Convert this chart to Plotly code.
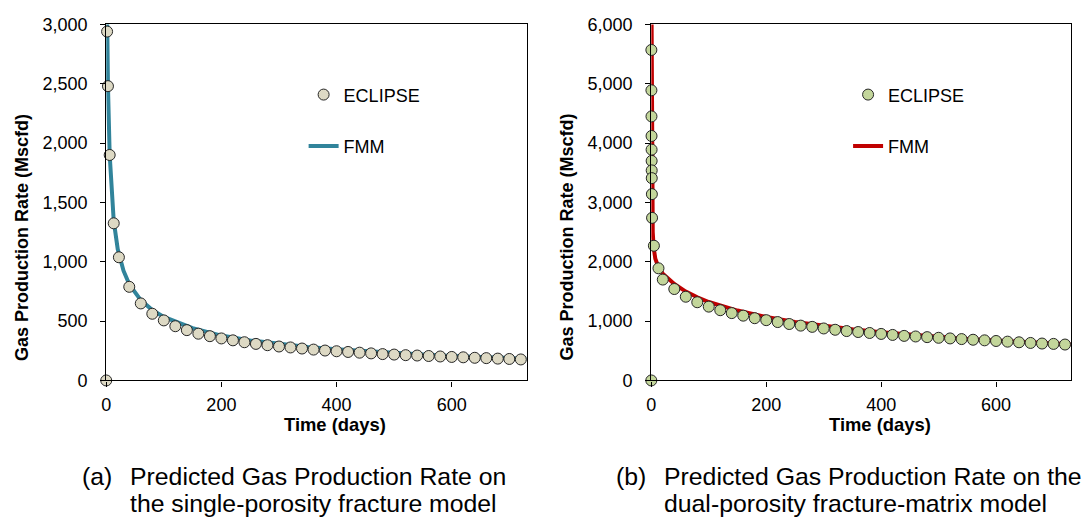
import plotly.graph_objects as go

W, H = 1083, 529

# ---------------- data: (a) single-porosity fracture model ----------------
ecl_a_t = [0, 1.5, 3, 6, 13, 22] + list(range(40, 721, 20))
ecl_a_q = [0, 2940, 2480, 1900, 1324, 1038,
           789, 649, 562, 506, 457, 424, 394, 373, 354, 338, 322, 308, 297,
           286, 278, 269, 260, 252, 246, 240, 234, 228, 222, 218, 213, 210,
           206, 202, 198, 195, 191, 188, 184, 181, 177]

fmm_a_t = [1, 1.5, 3, 6, 10, 13, 20, 30, 40, 60, 80, 100, 150, 200, 250, 300,
           350, 400, 450, 500, 550, 600, 650, 700, 730]
fmm_a_q = [3300, 2950, 2480, 1900, 1500, 1345, 1105, 925, 810, 677, 593, 535,
           440, 378, 337, 306, 282, 262, 245, 231, 218, 207, 197, 188, 183]

# ---------------- data: (b) dual-porosity fracture-matrix model -------------
ecl_b_t = [0, 0.1, 0.2, 0.3, 0.4, 0.5, 0.6, 0.7, 0.8, 1.0, 1.3, 4.5, 12.5] + list(range(20, 721, 20))
ecl_b_q = [0, 5570, 4890, 4450, 4120, 3890, 3700, 3540, 3410, 3140, 2740, 2270, 1890,
           1700, 1541, 1411, 1318, 1244, 1184, 1135, 1092, 1049, 1016, 984, 951,
           924, 903, 876, 854, 832, 816, 800, 784, 767, 751, 741, 730, 719, 708,
           697, 686, 676, 665, 654, 643, 632, 622, 616, 605]

fmm_b_t = [0.3, 0.6, 1, 1.5, 2.5, 4, 7, 12, 20, 40, 60, 80, 100, 150, 200, 250,
           300, 350, 400, 450, 500, 550, 600, 650, 700, 730]
fmm_b_q = [6500, 5000, 3800, 3000, 2500, 2250, 2050, 1920, 1800, 1625, 1498,
           1402, 1322, 1178, 1070, 987, 920, 862, 812, 770, 733, 700, 672, 646,
           622, 610]

x_range = [0, 730]
y_range_a = [0, 3000]
y_range_b = [0, 6000]

FONT = "Liberation Sans, Arial, sans-serif"
TEAL = "#31849B"
RED = "#C00000"
TAN = "#DDD9C4"
OLIVE = "#C3D69B"
EDGE = "#262626"

fig = go.Figure()

# (a)
fig.add_trace(go.Scatter(x=fmm_a_t, y=fmm_a_q, mode="lines", name="FMM",
                         line=dict(color=TEAL, width=4), xaxis="x", yaxis="y",
                         legend="legend", legendgroup="a2", legendrank=2))
fig.add_trace(go.Scatter(x=ecl_a_t, y=ecl_a_q, mode="markers", name="ECLIPSE",
                         marker=dict(size=11, color=TAN, line=dict(color=EDGE, width=1)),
                         cliponaxis=False, xaxis="x", yaxis="y",
                         legend="legend", legendgroup="a1", legendrank=1))
# (b)
fig.add_trace(go.Scatter(x=fmm_b_t, y=fmm_b_q, mode="lines", name="FMM",
                         line=dict(color=RED, width=4), xaxis="x2", yaxis="y2",
                         legend="legend2", legendgroup="b2", legendrank=2))
fig.add_trace(go.Scatter(x=ecl_b_t, y=ecl_b_q, mode="markers", name="ECLIPSE",
                         marker=dict(size=11, color=OLIVE, line=dict(color=EDGE, width=1)),
                         cliponaxis=False, xaxis="x2", yaxis="y2",
                         legend="legend2", legendgroup="b1", legendrank=1))

ydom = [(H - 385) / H, (H - 15) / H]
xdom_a = [101.7 / W, 524 / W]
xdom_b = [649.3 / W, 1070.7 / W]

axis_common = dict(showline=True, linecolor="black", linewidth=1.3, mirror=True,
                   ticks="outside", ticklen=5, tickcolor="black", tickwidth=1,
                   showgrid=False, zeroline=False,
                   tickfont=dict(family=FONT, size=18, color="black"))

fig.update_layout(
    width=W, height=H,
    margin=dict(l=0, r=0, t=0, b=0),
    paper_bgcolor="white", plot_bgcolor="white",
    font=dict(family=FONT, color="black"),
    xaxis=dict(domain=xdom_a, range=x_range, tickvals=[0, 200, 400, 600],
               anchor="y", ticklabelstandoff=3, **axis_common),
    yaxis=dict(domain=ydom, range=y_range_a, dtick=500, tickformat=",",
               anchor="x", ticklabelstandoff=9, **axis_common),
    xaxis2=dict(domain=xdom_b, range=x_range, tickvals=[0, 200, 400, 600],
                anchor="y2", ticklabelstandoff=3, **axis_common),
    yaxis2=dict(domain=ydom, range=y_range_b, dtick=1000, tickformat=",",
                anchor="x2", ticklabelstandoff=9, **axis_common),
    legend=dict(x=300 / W, y=1 - 69 / H, xanchor="left", yanchor="top",
                bgcolor="rgba(0,0,0,0)", tracegroupgap=25,
                font=dict(family=FONT, size=18, color="black")),
    legend2=dict(x=847 / W, y=1 - 69 / H, xanchor="left", yanchor="top",
                 bgcolor="rgba(0,0,0,0)", tracegroupgap=25,
                 font=dict(family=FONT, size=18, color="black")),
    showlegend=True,
)

ann = []
# axis titles
for cx in (332, 879.5):
    ann.append(dict(text="<b>Time (days)</b>", x=cx / W, y=1 - 431 / H, xref="paper", yref="paper",
                    xanchor="center", yanchor="middle", showarrow=False,
                    font=dict(family=FONT, size=18.4, color="black")))
for cx in (17, 565):
    ann.append(dict(text="<b>Gas Production Rate (Mscfd)</b>", x=cx / W, y=1 - 236 / H,
                    xref="paper", yref="paper", xanchor="center", yanchor="middle",
                    textangle=-90, showarrow=False,
                    font=dict(family=FONT, size=18, color="black")))
# captions
cap = [("(a)", 75, 485), ("Predicted Gas Production Rate on", 124, 485),
       ("the single-porosity fracture model", 124, 513),
       ("(b)", 612, 485), ("Predicted Gas Production Rate on the", 660, 485),
       ("dual-porosity fracture-matrix model", 660, 513)]
for t, x, y in cap:
    ann.append(dict(text=t, x=x / W, y=1 - y / H, xref="paper", yref="paper",
                    xanchor="left", yanchor="middle", showarrow=False,
                    font=dict(family=FONT, size=24.8, color="black")))
fig.update_layout(annotations=ann)

fig.write_html("out.html")
